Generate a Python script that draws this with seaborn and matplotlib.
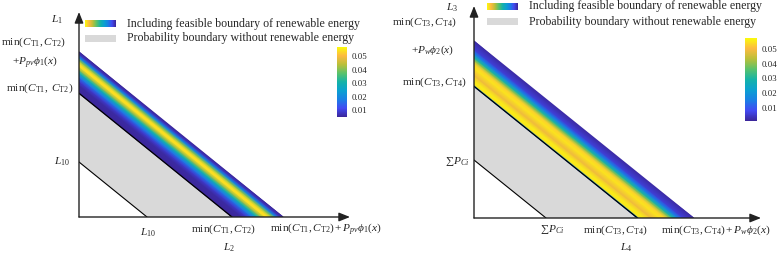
import numpy as np
import matplotlib
matplotlib.use("Agg")
import matplotlib.pyplot as plt
import seaborn as sns
from matplotlib.colors import LinearSegmentedColormap, Normalize
from matplotlib.cm import ScalarMappable
from matplotlib.patches import Rectangle

# ---------------- data ----------------
# intercepts (x = y = c) of the three parallel boundaries: base line, lower band edge, upper band edge
left_c = [1.0, 2.25, 3.0]
right_c = [1.0, 2.27, 3.05]
# probability density across the band, t = 0 (lower edge) .. 1 (upper edge)
left_t = [0.0, 0.2, 0.3, 0.4, 0.5, 0.58, 0.66, 0.72, 0.8, 0.87, 0.95, 1.0]
left_v = [0.005, 0.006, 0.009, 0.017, 0.03, 0.042, 0.054, 0.054, 0.04, 0.02, 0.008, 0.005]
right_t = [0.0, 0.02, 0.05, 0.12, 0.25, 0.4, 0.5, 0.58, 0.64, 0.73, 0.82, 1.0]
right_v = [0.012, 0.02, 0.055, 0.056, 0.049, 0.055, 0.053, 0.04, 0.03, 0.015, 0.006, 0.002]
left_range = [0.005, 0.057]
right_range = [0.001, 0.0575]
cbar_ticks = [0.01, 0.02, 0.03, 0.04, 0.05]
legend_labels = ["Including feasible boundary of renewable energy",
                 "Probability boundary without renewable energy"]

left_bottom_labels = [r"$L_{10}$", r"$\mathrm{min}(C_{\mathrm{T1}},C_{\mathrm{T2}})$",
                      r"$\mathrm{min}(C_{\mathrm{T1}},C_{\mathrm{T2}})+P_{pv}\phi_1(x)$", r"$L_2$"]
left_side_labels = [r"$L_1$", r"$\mathrm{min}(C_{\mathrm{T1}},C_{\mathrm{T2}})$", r"$+P_{pv}\phi_1(x)$",
                    r"$\mathrm{min}(C_{\mathrm{T1}},\ C_{\mathrm{T2}})$", r"$L_{10}$"]
right_bottom_labels = [r"$\sum P_{Ci}$", r"$\mathrm{min}(C_{\mathrm{T3}},C_{\mathrm{T4}})$",
                       r"$\mathrm{min}(C_{\mathrm{T3}},C_{\mathrm{T4}})+P_w\phi_2(x)$", r"$L_4$"]
right_side_labels = [r"$L_3$", r"$\mathrm{min}(C_{\mathrm{T3}},C_{\mathrm{T4}})$", r"$+P_w\phi_2(x)$",
                     r"$\mathrm{min}(C_{\mathrm{T3}},C_{\mathrm{T4}})$", r"$\sum P_{Ci}$"]

# ---------------- style ----------------
sns.set_theme(style="white")
plt.rcParams["font.family"] = ["Liberation Serif", "DejaVu Serif"]
plt.rcParams["mathtext.fontset"] = "custom"
plt.rcParams["mathtext.rm"] = "Liberation Serif"
plt.rcParams["mathtext.it"] = "Liberation Serif:italic"
plt.rcParams["mathtext.bf"] = "Liberation Serif:bold"

parula = LinearSegmentedColormap.from_list("parula_like", [
    (0.000, (0.230, 0.150, 0.600)),
    (0.125, (0.260, 0.290, 0.950)),
    (0.250, (0.100, 0.500, 0.900)),
    (0.375, (0.040, 0.630, 0.820)),
    (0.500, (0.080, 0.700, 0.660)),
    (0.625, (0.350, 0.760, 0.420)),
    (0.750, (0.730, 0.750, 0.220)),
    (0.875, (0.990, 0.730, 0.250)),
    (1.000, (0.980, 0.980, 0.050)),
])

W, H = 782, 256
fig = plt.figure(figsize=(W / 100, H / 100), dpi=100)


def px_axes(x0, y0, x1, y1):
    return fig.add_axes([x0 / W, 1 - y1 / H, (x1 - x0) / W, (y1 - y0) / H])


FS = 8.6
FSM = 8.2
GRAY = (0.85, 0.85, 0.85)


def panel(box, ux, uy, cvals, tprof, vprof, vrange, bottom_labels, bottom_off,
          side_labels, side_off, cbar_box, leg_x, leg_y):
    x0, y0, x1, y1 = box
    ax = px_axes(x0, y0, x1, y1)
    xmax = (x1 - x0) / ux
    ymax = (y1 - y0) / uy
    ax.set_xlim(0, xmax)
    ax.set_ylim(0, ymax)
    ax.axis("off")
    c10, clo, chi = cvals

    # gray probability region
    ax.fill([c10, clo, 0, 0], [0, 0, clo, c10], color=GRAY, lw=0, zorder=1)

    # colored band (gouraud mesh, rows = lines of constant intercept)
    cs = clo + np.asarray(tprof) * (chi - clo)
    s = np.array([0.0, 1.0])
    X = cs[:, None] * (1 - s[None, :])
    Y = cs[:, None] * s[None, :]
    C = np.repeat(np.asarray(vprof)[:, None], 2, axis=1)
    norm = Normalize(vrange[0], vrange[1])
    ax.pcolormesh(X, Y, C, shading="gouraud", cmap=parula, norm=norm, zorder=2,
                  antialiased=True)

    # boundary lines
    sns.lineplot(x=[c10, 0], y=[0, c10], ax=ax, color="black", lw=0.8, sort=False,
                 estimator=None, zorder=3)
    sns.lineplot(x=[clo, 0], y=[0, clo], ax=ax, color="black", lw=0.9, sort=False,
                 estimator=None, zorder=3)

    # axes with arrows
    arr = dict(arrowstyle="-|>,head_length=0.55,head_width=0.22", color="#222222",
               lw=1.0, shrinkA=0, shrinkB=0)
    ax.annotate("", xy=(xmax, 0), xytext=(0, 0), arrowprops=arr, zorder=4,
                annotation_clip=False)
    ax.annotate("", xy=(0, ymax), xytext=(0, 0), arrowprops=arr, zorder=4,
                annotation_clip=False)

    # bottom labels
    anchors = [(c10, 0), (clo, 0), (chi, 0), (clo, 0)]
    for lab, (ax_, ay_), off in zip(bottom_labels, anchors, bottom_off):
        ax.annotate(lab, xy=(ax_, ay_), xytext=off, textcoords="offset pixels",
                    ha="center", va="center", fontsize=FSM, annotation_clip=False)
    # side labels
    anchors = [(0, ymax), (0, chi), (0, chi), (0, clo), (0, c10)]
    for lab, (ax_, ay_), off in zip(side_labels, anchors, side_off):
        ax.annotate(lab, xy=(ax_, ay_), xytext=off, textcoords="offset pixels",
                    ha="center", va="center", fontsize=FSM, annotation_clip=False)

    # colorbar
    cax = px_axes(*cbar_box)
    cb = fig.colorbar(ScalarMappable(norm=norm, cmap=parula), cax=cax, ticks=cbar_ticks)
    cb.outline.set_visible(False)
    cb.ax.tick_params(length=0, pad=3, labelsize=6.3, labelcolor="#222222")
    cb.ax.set_yticklabels([f"{t:.2f}" for t in cbar_ticks])

    # legend swatches
    sax = px_axes(leg_x, leg_y[0], leg_x + 31, leg_y[0] + 7)
    sax.imshow(np.linspace(1, 0, 64)[None, :], cmap=parula, aspect="auto")
    sax.axis("off")
    fig.patches.append(Rectangle((leg_x / W, 1 - (leg_y[1] + 7) / H), 31 / W, 7 / H,
                                 transform=fig.transFigure, color=GRAY, lw=0))
    for lab, yy in zip(legend_labels, leg_y):
        fig.text((leg_x + 42) / W, 1 - (yy + 3.5) / H, lab, ha="left", va="center",
                 fontsize=FS)
    return ax


panel(box=(79, 12, 350, 217), ux=68, uy=55, cvals=left_c, tprof=left_t, vprof=left_v,
      vrange=left_range, bottom_labels=left_bottom_labels,
      bottom_off=[(1, -16), (-9, -12), (43, -12), (-3, -31)],
      side_labels=left_side_labels,
      side_off=[(-22, -8), (-46, 10), (-44, -10), (-39, 5), (-17, 0)],
      cbar_box=(337, 47, 347, 117), leg_x=85, leg_y=(20, 35))

panel(box=(474, 6, 761, 218), ux=72, uy=58, cvals=right_c, tprof=right_t, vprof=right_v,
      vrange=right_range, bottom_labels=right_bottom_labels,
      bottom_off=[(6, -12), (-22, -12), (22, -12), (-11, -30)],
      side_labels=right_side_labels,
      side_off=[(-22, -2), (-50, 19), (-41, -9), (-40, 4), (-17, -1)],
      cbar_box=(745, 38, 757, 121), leg_x=487, leg_y=(3, 18))

fig.savefig("out.png", dpi=100)
